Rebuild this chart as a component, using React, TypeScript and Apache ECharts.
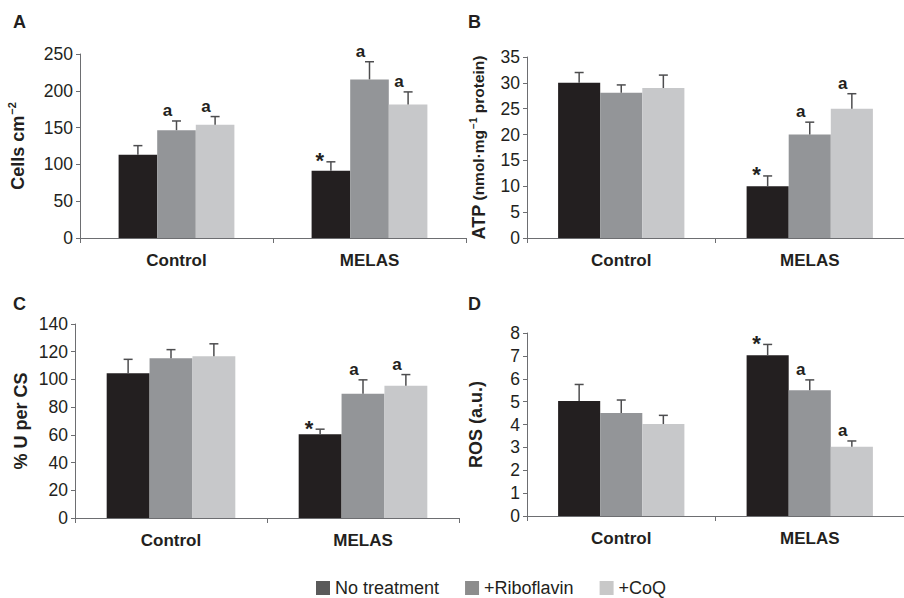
import React, { useEffect, useRef } from "react";
import * as echarts from "echarts";

const categories = ["Control", "MELAS"];
const seriesNames = ["No treatment", "+Riboflavin", "+CoQ"];
const barColors = ["#231f20", "#939598", "#c7c8ca"];
const legendColors = ["#5a5a5a", "#8c8c8c", "#c8c8c8"];

// Panel A: cells per cm2
const cellsMeans = [[113, 91.5], [146.5, 215.5], [154, 181.5]];
const cellsErrors = [[12.5, 12], [12.5, 24], [11, 17]];
const cellsMarks = [["", "*"], ["a", "a"], ["a", "a"]];
const cellsTicks = { max: 250, interval: 50 };

// Panel B: ATP
const atpMeans = [[30, 10], [28.1, 20], [29, 25]];
const atpErrors = [[2, 2], [1.5, 2.4], [2.5, 2.9]];
const atpMarks = [["", "*"], ["", "a"], ["", "a"]];
const atpTicks = { max: 35, interval: 5 };

// Panel C: % U per CS
const uMeans = [[104.5, 60.5], [115.2, 89.7], [116.7, 95.5]];
const uErrors = [[10, 3.6], [6.3, 10], [9, 8]];
const uMarks = [["", "*"], ["", "a"], ["", "a"]];
const uTicks = { max: 140, interval: 20 };

// Panel D: ROS
const rosMeans = [[5.03, 7.03], [4.5, 5.5], [4.02, 3.03]];
const rosErrors = [[0.72, 0.47], [0.57, 0.45], [0.38, 0.25]];
const rosMarks = [["", "*"], ["", "a"], ["", "a"]];
const rosTicks = { max: 8, interval: 1 };

const FONT = "'Liberation Sans', Arial, Helvetica, sans-serif";

const panels = [
  {
    letter: "A", means: cellsMeans, errors: cellsErrors, marks: cellsMarks, ticks: cellsTicks,
    grid: { left: 80, top: 54, width: 386, height: 184 }, gap: 0.4,
    name: "{b|Cells cm}{s|−2}", nameGap: 51, letterPos: [13, 13],
  },
  {
    letter: "B", means: atpMeans, errors: atpErrors, marks: atpMarks, ticks: atpTicks,
    grid: { left: 527, top: 57, width: 384, height: 181 }, gap: 0.33,
    name: "{b|ATP}{m| (nmol·mg}{s2|−1}{m| protein)}", nameGap: 38, letterPos: [468, 13],
  },
  {
    letter: "C", means: uMeans, errors: uErrors, marks: uMarks, ticks: uTicks,
    grid: { left: 75, top: 324, width: 384, height: 194 }, gap: 0.33,
    name: "{b|% U per CS}", nameGap: 45, letterPos: [13, 295],
  },
  {
    letter: "D", means: rosMeans, errors: rosErrors, marks: rosMarks, ticks: rosTicks,
    grid: { left: 527, top: 333, width: 384, height: 183 }, gap: 0.33,
    name: "{b|ROS (a.u.)}", nameGap: 42, letterPos: [468, 295],
  },
];

function buildOption() {
  const grids: any[] = [];
  const xAxes: any[] = [];
  const yAxes: any[] = [];
  const series: any[] = [];
  const graphics: any[] = [];

  panels.forEach((p, pi) => {
    grids.push({ ...p.grid, containLabel: false });
    xAxes.push({
      type: "category",
      gridIndex: pi,
      data: categories,
      axisLine: { lineStyle: { color: "#6d6e71", width: 1 } },
      axisTick: { show: true, length: 5, lineStyle: { color: "#6d6e71" } },
      axisLabel: {
        color: "#231f20", fontSize: 17, fontWeight: "bold", fontFamily: FONT, margin: 14,
      },
    });
    yAxes.push({
      type: "value",
      gridIndex: pi,
      min: 0,
      max: p.ticks.max,
      interval: p.ticks.interval,
      splitLine: { show: false },
      axisLine: { show: true, lineStyle: { color: "#6d6e71", width: 1 } },
      axisTick: { show: true, length: 4, lineStyle: { color: "#6d6e71" } },
      axisLabel: { color: "#231f20", fontSize: 17.5, fontFamily: FONT, margin: 7 },
      name: p.name,
      nameLocation: "middle",
      nameRotate: 90,
      nameGap: p.nameGap,
      nameTextStyle: {
        fontFamily: FONT,
        rich: {
          b: { fontSize: 18, fontWeight: "bold", color: "#231f20", fontFamily: FONT },
          m: { fontSize: 15.5, fontWeight: "bold", color: "#231f20", fontFamily: FONT },
          s: { fontSize: 11, fontWeight: "bold", color: "#231f20", fontFamily: FONT, padding: [0, 0, 12, 1] },
          s2: { fontSize: 10, fontWeight: "bold", color: "#231f20", fontFamily: FONT, padding: [0, 0, 11, 1] },
        },
      },
    });
    graphics.push({
      type: "text",
      left: p.letterPos[0],
      top: p.letterPos[1],
      style: { text: p.letter, fontSize: 18, fontWeight: "bold", fill: "#231f20", fontFamily: FONT },
    });

    seriesNames.forEach((sn, si) => {
      series.push({
        type: "bar",
        name: sn,
        xAxisIndex: pi,
        yAxisIndex: pi,
        data: p.means[si],
        barGap: "0%",
        barCategoryGap: Math.round(p.gap * 100) + "%",
        itemStyle: { color: barColors[si] },
        emphasis: { disabled: true },
      });
    });

    seriesNames.forEach((sn, si) => {
      const marks = p.marks[si];
      const gap = p.gap;
      series.push({
        type: "custom",
        name: "err-" + p.letter + si,
        xAxisIndex: pi,
        yAxisIndex: pi,
        z: 5,
        clip: false,
        encode: { x: 0, y: 1 },
        data: p.means[si].map((m, ci) => [ci, m, p.errors[si][ci]]),
        renderItem: (params: any, api: any) => {
          const cat = api.value(0);
          const val = api.value(1);
          const err = api.value(2);
          const band = api.size([1, 0])[0];
          const bw = (band * (1 - gap)) / 3;
          const base = api.coord([cat, val]);
          const top = api.coord([cat, val + err]);
          const x = base[0] + (si - 1) * bw;
          const children: any[] = [
            { type: "line", shape: { x1: x, y1: base[1], x2: x, y2: top[1] }, style: { stroke: "#4d4d4f", lineWidth: 1.5 } },
            { type: "line", shape: { x1: x - 4.5, y1: top[1], x2: x + 4.5, y2: top[1] }, style: { stroke: "#4d4d4f", lineWidth: 1.5 } },
          ];
          const mk = marks[params.dataIndex];
          if (mk) {
            const isStar = mk === "*";
            children.push({
              type: "text",
              x: x - (isStar ? 11 : 9),
              y: isStar ? top[1] + 10 : top[1] - 2,
              style: {
                text: mk,
                fontSize: isStar ? 22 : 17,
                fontWeight: "bold",
                fill: "#231f20",
                fontFamily: FONT,
                align: "center",
                verticalAlign: "bottom",
              },
            });
          }
          return { type: "group", children };
        },
      });
    });
  });

  return {
    animation: false,
    backgroundColor: "#ffffff",
    grid: grids,
    xAxis: xAxes,
    yAxis: yAxes,
    series,
    graphic: graphics,
    legend: {
      data: seriesNames.map((n, i) => ({ name: n, itemStyle: { color: legendColors[i] } })),
      left: 316,
      top: 579,
      padding: 0,
      itemWidth: 14,
      itemHeight: 14,
      itemGap: 26,
      icon: "rect",
      selectedMode: false,
      textStyle: { fontSize: 18, lineHeight: 18, color: "#231f20", fontFamily: FONT },
    },
  };
}

export default function App() {
  const ref = useRef<HTMLDivElement>(null);
  useEffect(() => {
    document.body.style.margin = "0";
    if (!ref.current) return;
    const chart = echarts.init(ref.current, undefined, { renderer: "svg" });
    chart.setOption(buildOption() as any);
    return () => chart.dispose();
  }, []);
  return <div ref={ref} style={{ width: 904, height: 598 }} />;
}
